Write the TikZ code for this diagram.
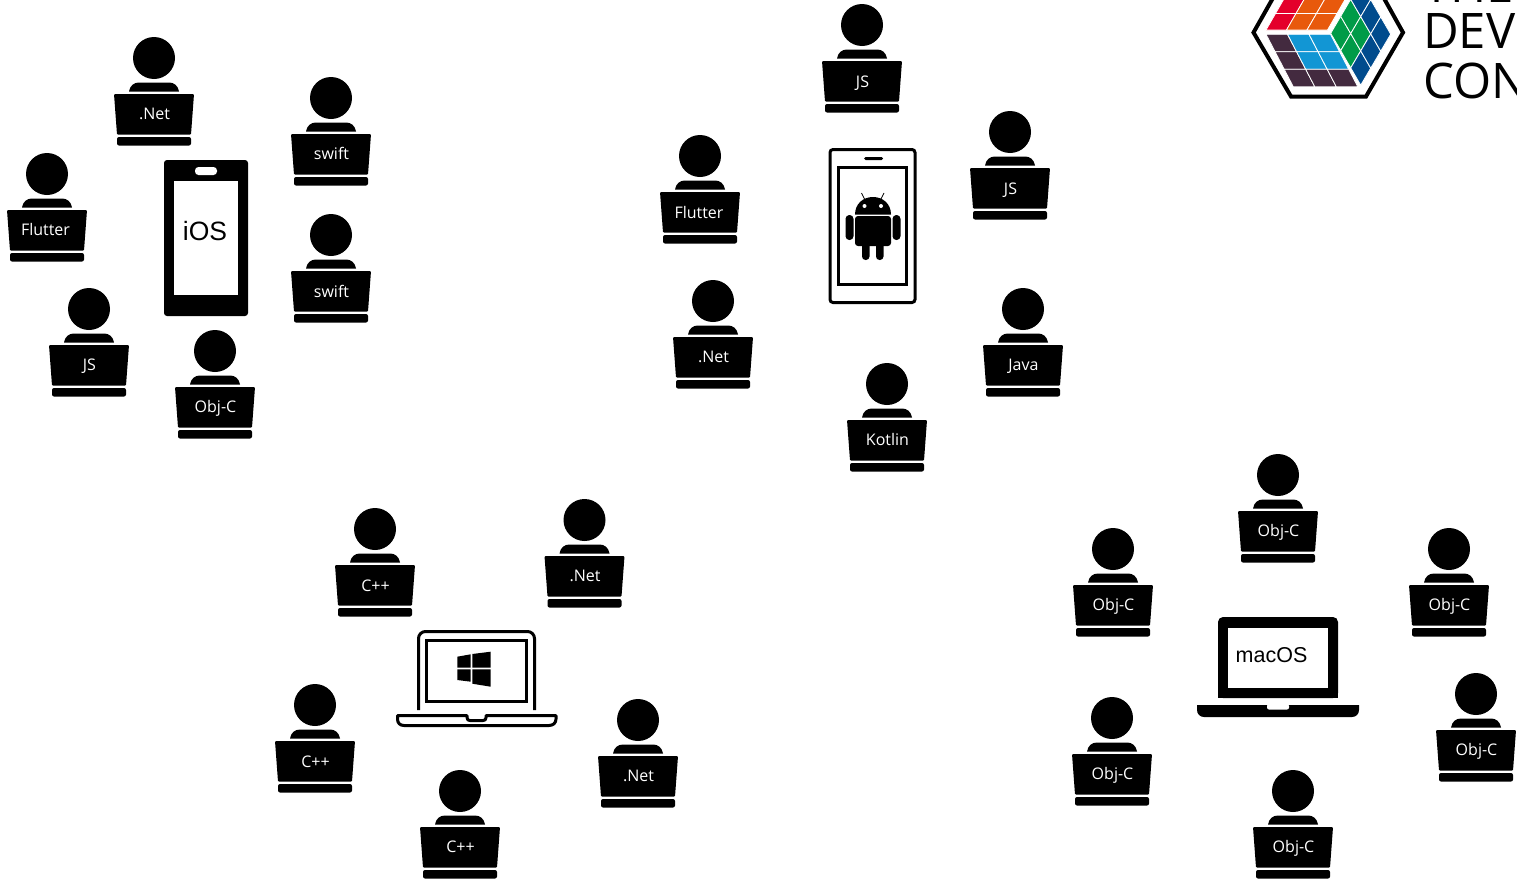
\documentclass[tikz,border=0pt]{standalone}
\usepackage{fontspec}
\setmainfont{Open Sans}
\newfontfamily\devicefont{Liberation Sans}
\usetikzlibrary{calc}
\definecolor{cubered}{HTML}{E4002B}
\definecolor{cubeorange}{HTML}{E8590C}
\definecolor{cubegreen}{HTML}{009B48}
\definecolor{cubeblue}{HTML}{004B8D}
\definecolor{cubecyan}{HTML}{1296D4}
\definecolor{cubepurple}{HTML}{432A3F}
\tikzset{
  devlabel/.style={text=white,font=\fontsize{16}{16}\selectfont,inner sep=0pt,anchor=base},
  devshape/.style={fill=black,draw=none},
  devicetext/.style={inner sep=0pt,anchor=base,text=black},
  logotext/.style={inner sep=0pt,anchor=base west,text=black,font=\fontsize{49}{49}\selectfont},
  linedevice/.style={draw=black,line width=3pt,fill=white},
  cubecell/.style={draw=white,line width=0.8pt},
}
% name, head x, head y, label, label x offset, label baseline offset
\newcommand{\devperson}[6]{%
  \begin{scope}[shift={(#2,#3)}]
    \fill[devshape] (0,0) circle[radius=21];
    \fill[devshape] (-25,33.5) .. controls (-24,27.5) and (-20,24.5) .. (-15,24.5) -- (15,24.5) .. controls (20,24.5) and (24,27.5) .. (25,33.5) -- cycle;
    \fill[devshape,rounded corners=1pt] (-40,36) -- (40,36) -- (37,76.5) -- (-37,76.5) -- cycle;
    \fill[devshape,rounded corners=2pt] (-37,79) -- (37,79) -- (37,87.5) -- (-37,87.5) -- cycle;
    \node[devlabel] (#1) at (#5+0.5,#6) {#4};
  \end{scope}}
\newcommand{\cubeface}[4]{% origin, u, v, list of i/j/colour
  \foreach \i/\j/\c in {#4}{
    \fill[\c,cubecell] ($#1+\i*#2+\j*#3$) -- ($#1+\i*#2+1*#2+\j*#3$) -- ($#1+\i*#2+1*#2+\j*#3+1*#3$) -- ($#1+\i*#2+\j*#3+1*#3$) -- cycle;
  }}
\begin{document}
\begin{tikzpicture}[x=1pt,y=-1pt]
\useasboundingbox (0,0) rectangle (1517,881);
\clip (0,0) rectangle (1517,881);
\fill[white] (0,0) rectangle (1517,881);

% logo
\draw[black,line width=4pt,fill=white,miter limit=10] (1253.5,32.5) -- (1291,-34) -- (1366,-34) -- (1403,32.5) -- (1366,96.5) -- (1291,96.5) -- cycle;
\cubeface{(1266,34.3)}{(21.5,0)}{(9.1,17.5)}{0/0/cubepurple,1/0/cubecyan,2/0/cubecyan,0/1/cubepurple,1/1/cubecyan,2/1/cubecyan,0/2/cubepurple,1/2/cubepurple,2/2/cubepurple}
\cubeface{(1330.7,33.3)}{(10,-17)}{(10,17.3)}{0/0/cubegreen,1/0/cubegreen,0/1/cubegreen,1/1/cubegreen,2/0/cubeblue,2/1/cubeblue,0/2/cubeblue,1/2/cubeblue,2/2/cubeblue}
\cubeface{(1266,30)}{(20.5,0)}{(9.5,-16.5)}{0/0/cubered,1/0/cubeorange,2/0/cubeorange,0/1/cubered,1/1/cubeorange,2/1/cubeorange,0/2/cubered,1/2/cubeorange,2/2/cubeorange}
\node[logotext] (logoa) at (1423,2) {THE};
\node[logotext] (logob) at (1423,48) {DEV};
\node[logotext] (logoc) at (1423,98) {CON};

% iOS phone
\fill[black,rounded corners=3pt] (164,160) rectangle (248,316);
\fill[white] (174,181) rectangle (238,295);
\fill[white,rounded corners=3.5pt] (195,167) rectangle (217,175);
\node[devicetext,font=\devicefont\fontsize{26.5}{26.5}\selectfont] (ios) at (205,240) {iOS};

% Android phone
\draw[linedevice,rounded corners=3pt] (830,149.5) rectangle (915,302.5);
\draw[black,line width=3pt,fill=white] (838.5,167.5) rectangle (906.5,284.5);
\fill[black,rounded corners=1.5pt] (864,157) rectangle (883,160);
\begin{scope}
  \fill[black] (855,214.5) .. controls (855,204) and (863,197) .. (873,197) .. controls (883,197) and (891,204) .. (891,214.5) -- cycle;
  \fill[black,rounded corners=3pt] (855,216) -- (891,216) -- (891,246) -- (855,246) -- cycle;
  \fill[black,rounded corners=3.8pt] (845.5,215) rectangle (853.5,240);
  \fill[black,rounded corners=3.8pt] (892.5,215) rectangle (900.5,240);
  \fill[black,rounded corners=3.5pt] (862,240) rectangle (869.5,260);
  \fill[black,rounded corners=3.5pt] (876,240) rectangle (883.5,260);
  \fill[white] (864.5,206) circle[radius=2];
  \fill[white] (881,206) circle[radius=2];
  \draw[black,line width=0.8pt] (861.5,193) -- (865,200);
  \draw[black,line width=0.8pt] (884,193) -- (880.5,200);
\end{scope}

% Windows laptop
\draw[black,line width=3pt,rounded corners=7pt] (418.5,710) -- (418.5,631.5) -- (534.5,631.5) -- (534.5,710);
\draw[black,line width=3pt] (426.5,640.5) rectangle (526,701.5);
\draw[black,line width=3pt,fill=white,line join=round] (397.5,715.5) -- (467,715.5) -- (467,717.5) .. controls (467,719.5) and (468,720.5) .. (470,720.5) -- (483,720.5) .. controls (485,720.5) and (486,719.5) .. (486,717.5) -- (486,715.5) -- (556,715.5) -- (556,719) .. controls (556,723) and (553,725.5) .. (549,725.5) -- (404,725.5) .. controls (400,725.5) and (397.5,723) .. (397.5,719) -- cycle;
\fill[black] (457.3,656.7) -- (470.7,654.3) -- (470.7,667.7) -- (457.3,667.7) -- cycle;
\fill[black] (472.3,654) -- (490.7,651.7) -- (490.7,667.7) -- (472.3,667.7) -- cycle;
\fill[black] (457.3,669.3) -- (470.7,669.3) -- (470.7,681.7) -- (457.3,680) -- cycle;
\fill[black] (472.3,669.3) -- (490.7,669.3) -- (490.7,686.7) -- (472.3,683.7) -- cycle;

% macOS laptop
\fill[black,rounded corners=5pt] (1218,698) -- (1218,617) -- (1338,617) -- (1338,698) -- cycle;
\fill[black] (1218,690) rectangle (1338,698);
\fill[white] (1228,628) rectangle (1328,688);
\fill[black] (1197,705) -- (1359,705) -- (1359,710) .. controls (1359,714) and (1356,717) .. (1352,717) -- (1204,717) .. controls (1200,717) and (1197,714) .. (1197,710) -- cycle;
\fill[white,rounded corners=2pt] (1267,704) -- (1289,704) -- (1289,709.5) -- (1267,709.5) -- cycle;
\node[devicetext,font=\devicefont\fontsize{21.5}{21.5}\selectfont] (macos) at (1271.5,662) {macOS};

% iOS group
\devperson{a1}{154}{58}{.Net}{0}{61}
\devperson{a2}{331}{98}{swift}{0}{61}
\devperson{a3}{331}{235}{swift}{0}{62}
\devperson{a4}{47}{174}{Flutter}{-2}{61}
\devperson{a5}{89}{309}{JS}{0}{61}
\devperson{a6}{215}{351}{Obj-C}{0}{61}
% Android group
\devperson{b1}{862}{25}{JS}{0}{62}
\devperson{b2}{700}{156}{Flutter}{-1.5}{62}
\devperson{b3}{1010}{132}{JS}{0}{62}
\devperson{b4}{713}{301}{.Net}{0}{61}
\devperson{b5}{1023}{309}{Java}{0}{61}
\devperson{b6}{887}{384}{Kotlin}{0}{61}
% Windows group
\devperson{c1}{375}{529}{C++}{0}{62}
\devperson{c2}{584.5}{520}{.Net}{0}{61}
\devperson{c3}{315}{705}{C++}{0}{62}
\devperson{c4}{460}{791}{C++}{0}{61}
\devperson{c5}{638}{720}{.Net}{0}{61}
% macOS group
\devperson{d1}{1278}{475}{Obj-C}{0}{61}
\devperson{d2}{1113}{549}{Obj-C}{0}{61}
\devperson{d3}{1449}{549}{Obj-C}{0}{61}
\devperson{d4}{1476}{694}{Obj-C}{0}{61}
\devperson{d5}{1112}{718}{Obj-C}{0}{61}
\devperson{d6}{1293}{791}{Obj-C}{0}{61}
\end{tikzpicture}
\end{document}
